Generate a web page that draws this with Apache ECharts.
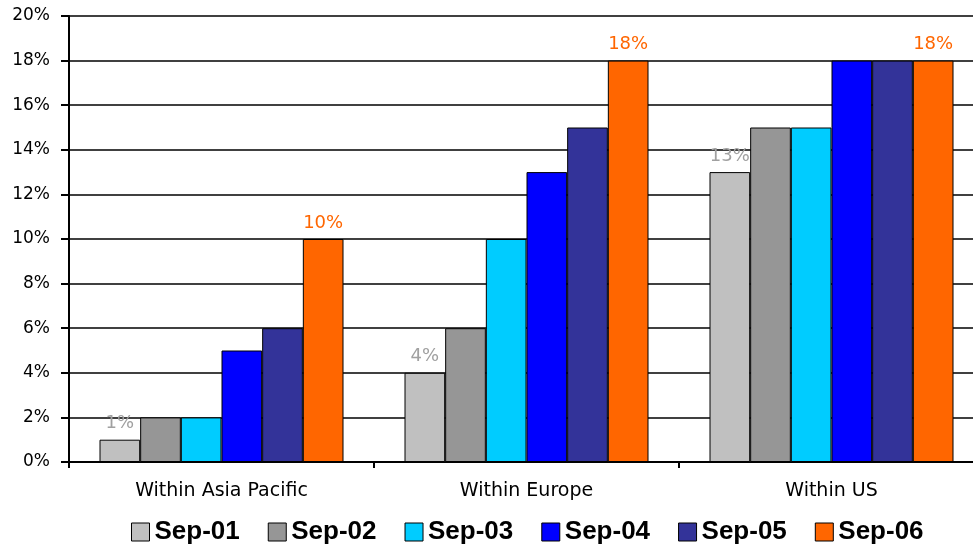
<!DOCTYPE html>
<html><head><meta charset="utf-8">
<script src="https://cdn.jsdelivr.net/npm/echarts@6/dist/echarts.min.js"></script>
<style>html,body{margin:0;padding:0;background:#fff;overflow:hidden}#c{width:990px;height:549px}</style>
</head><body><div id="c"></div>
<script>
var categories = ['Within Asia Pacific', 'Within Europe', 'Within US'];
var seriesNames = ['Sep-01', 'Sep-02', 'Sep-03', 'Sep-04', 'Sep-05', 'Sep-06'];
var sep01 = [1, 4, 13];
var sep02 = [2, 6, 15];
var sep03 = [2, 10, 15];
var sep04 = [5, 13, 18];
var sep05 = [6, 15, 18];
var sep06 = [10, 18, 18];
var colors = ['#c0c0c0', '#969696', '#00ccff', '#0000ff', '#333399', '#ff6600'];
var labelColors = ['#a0a0a0', null, null, null, null, '#ff6600'];
var values = [sep01, sep02, sep03, sep04, sep05, sep06];

var chart = echarts.init(document.getElementById('c'));
var series = seriesNames.map(function (n, i) {
  return {
    name: n, type: 'bar', data: values[i],
    barGap: '0%', barCategoryGap: '20%',
    itemStyle: { color: colors[i], borderColor: '#000', borderWidth: 1 },
    label: labelColors[i] ? {
      show: true, position: 'top', distance: 7, formatter: '{c}%',
      color: labelColors[i], fontFamily: 'DejaVu Sans', fontSize: 18
    } : { show: false }
  };
});
chart.setOption({
  animation: false,
  backgroundColor: '#fff',
  color: colors,
  grid: { left: 69, right: 6, top: 16, bottom: 87, containLabel: false },
  legend: {
    top: 519, left: 131, itemWidth: 18, itemHeight: 18, itemGap: 28,
    icon: 'rect', padding: 0,
    itemStyle: { borderColor: '#000', borderWidth: 1 },
    textStyle: { fontFamily: 'Liberation Sans', fontWeight: 'bold', fontSize: 26, color: '#000' },
    data: seriesNames
  },
  xAxis: {
    type: 'category', data: categories,
    axisLine: { lineStyle: { color: '#000', width: 2 } },
    axisTick: { show: true, length: 6, lineStyle: { color: '#000', width: 2 } },
    axisLabel: { margin: 20, color: '#000', fontFamily: 'DejaVu Sans', fontSize: 19 }
  },
  yAxis: {
    type: 'value', min: 0, max: 20, interval: 2,
    axisLine: { show: true, lineStyle: { color: '#000', width: 2 } },
    axisTick: { show: true, length: 8, lineStyle: { color: '#000', width: 2 } },
    splitLine: { lineStyle: { color: '#000', width: 1.5 } },
    axisLabel: { formatter: '{value}%', margin: 19, color: '#000', fontFamily: 'DejaVu Sans', fontSize: 17 }
  },
  series: series
});
</script></body></html>
